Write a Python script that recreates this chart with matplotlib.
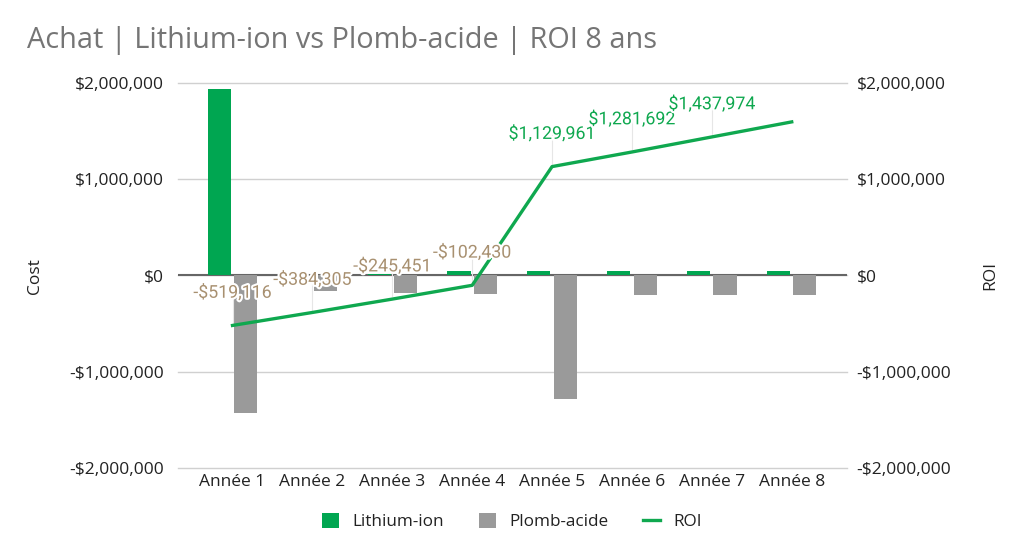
import matplotlib.pyplot as plt
import matplotlib.patheffects as pe
import numpy as np
from matplotlib.ticker import FuncFormatter

years = ['Année 1', 'Année 2', 'Année 3', 'Année 4', 'Année 5', 'Année 6', 'Année 7', 'Année 8']
lithium = [1940000, 8000, 12000, 50000, 50000, 50000, 50000, 50000]
plomb = [-1430000, -160000, -185000, -195000, -1280000, -205000, -205000, -205000]
roi = [-519116, -384305, -245451, -102430, 1129961, 1281692, 1437974, 1594256]
roi_labels = ['-$519,116', '-$384,305', '-$245,451', '-$102,430',
              '$1,129,961', '$1,281,692', '$1,437,974', '']

GREEN = '#00a651'
GRAY = '#9a9a9a'
LINE = '#0fa84f'
TAN = '#a89070'
TXT = '#222222'

plt.rcParams['font.family'] = ['Open Sans', 'DejaVu Sans']

def money(v, pos=None):
    if v < 0:
        return '-${:,.0f}'.format(-v)
    return '${:,.0f}'.format(v)

fig = plt.figure(figsize=(10.24, 5.52), dpi=100)
ax = fig.add_axes([0.174, 0.152, 0.653, 0.698])
ax2 = ax.twinx()

x = np.arange(len(years))
w = 0.29
ax.bar(x - 0.165, lithium, w, color=GREEN, zorder=3, label='Lithium-ion')
ax.bar(x + 0.165, plomb, w, color=GRAY, zorder=3, label='Plomb-acide')

ax.set_xlim(-0.68, 7.69)
ax.set_ylim(-2000000, 2000000)
ax2.set_ylim(-2000000, 2000000)
ticks = [-2000000, -1000000, 0, 1000000, 2000000]
for a in (ax, ax2):
    a.set_yticks(ticks)
    a.yaxis.set_major_formatter(FuncFormatter(money))
    a.tick_params(axis='y', length=0, labelsize=12.5, labelcolor=TXT)
    for s in a.spines.values():
        s.set_visible(False)
ax.tick_params(axis='y', pad=10)
ax2.tick_params(axis='y', pad=7)
ax.set_xticks(x)
ax.set_xticklabels(years)
ax.tick_params(axis='x', length=0, labelsize=12.5, labelcolor=TXT, pad=4)
ax.grid(axis='y', color='#d0d0d0', linewidth=1, zorder=0)
for gl in ax.get_ygridlines():
    gl.set_clip_on(False)
ax.axhline(0, color='#666666', linewidth=1.5, zorder=2)
fig.text(35 / 1024, 0.5, 'Cost', rotation=90, ha='center', va='center',
         fontsize=12.5, color=TXT)
fig.text(990 / 1024, 0.5, 'ROI', rotation=90, ha='center', va='center',
         fontsize=12.5, color=TXT)

ax2.plot(x, roi, color=LINE, linewidth=2.4, zorder=5, label='ROI')
ax2.set_zorder(ax.get_zorder() + 1)
ax2.patch.set_visible(False)

for i, (v, lab) in enumerate(zip(roi, roi_labels)):
    if not lab:
        continue
    col = TAN if v < 0 else LINE
    ly = v + 340000
    ax2.plot([i, i], [v + 30000, ly], color='#e6e6e6', linewidth=0.8, zorder=1)
    ax2.text(i, ly, lab, ha='center', va='center', fontsize=12.8, color=col,
             family=['Roboto', 'DejaVu Sans'], zorder=6,
             path_effects=[pe.withStroke(linewidth=3, foreground='white')])

fig.text(0.026, 0.927, 'Achat | Lithium-ion vs Plomb-acide | ROI 8 ans',
         fontsize=20.8, color='#757575', va='center')

h1, l1 = ax.get_legend_handles_labels()
h2, l2 = ax2.get_legend_handles_labels()
fig.legend(h1 + h2, l1 + l2, loc='center', bbox_to_anchor=(0.5, 0.055), ncol=3,
           frameon=False, fontsize=12.3, handlelength=1.0, handleheight=1.0,
           columnspacing=2.0, labelcolor=TXT)

fig.savefig('out.png', dpi=100)
